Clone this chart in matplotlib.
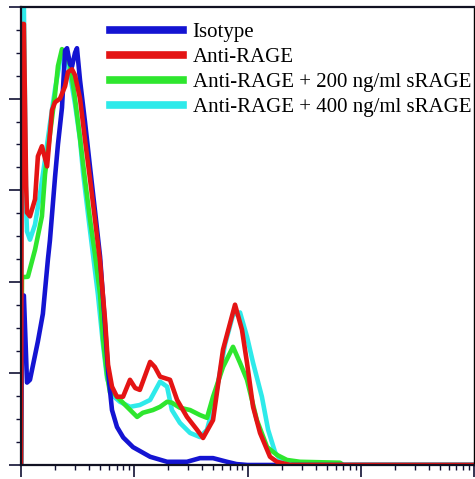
import matplotlib
matplotlib.use('Agg')
import matplotlib.pyplot as plt
from matplotlib.ticker import LogLocator, MultipleLocator, NullFormatter

# histogram traces (x = fluorescence, y = counts)
iso_x = [1.0, 1.02, 1.06, 1.13, 1.20, 1.41, 1.56, 1.73, 1.80, 2.00, 2.12, 2.30, 2.45, 2.55, 2.71,
         2.82, 3.00, 3.12, 3.32, 3.67, 4.07, 4.50, 4.99, 5.52, 5.87, 6.36, 7.04, 8.00, 9.75, 13.8,
         19.5, 29.2, 38.1, 49.6, 65.9, 80.0, 100.0, 10000.0]
iso_y = [0, 37, 37, 18, 18.6, 27, 33, 45, 49, 63, 70, 78, 90.5, 91, 87.5,
         87, 90, 91, 84, 75, 65, 55.5, 45.5, 30.5, 20.5, 12, 8.3, 6, 3.9, 1.8,
         0.7, 0.7, 1.5, 1.5, 0.7, 0.2, 0, 0]

red_x = [1.0, 1.02, 1.06, 1.11, 1.13, 1.20, 1.33, 1.41, 1.53, 1.70, 1.88, 2.00, 2.21, 2.45, 2.60,
         2.82, 3.00, 3.32, 3.67, 4.07, 4.50, 4.99, 5.52, 5.87, 6.36, 7.04, 7.96, 9.17, 10.2, 11.2,
         13.8, 15.2, 16.9, 20.7, 23.9, 29.2, 35.8, 40.5, 49.6, 60.8, 77.6, 89.4, 99.0, 112, 129,
         158, 182, 237, 10000.0]
red_y = [0, 96.3, 96.3, 61, 55.1, 54.3, 58, 67.4, 69.6, 65.2, 77.5, 79.2, 80, 82.7, 85.8,
         86.4, 85.1, 80, 71.1, 62.4, 53.6, 44.4, 31.7, 21.9, 17.1, 14.9, 14.9, 18.6, 16.8, 16.4,
         22.5, 21.4, 19.3, 18.6, 14.2, 10.5, 7.7, 5.9, 9.8, 25.2, 35.0, 29.5, 22.3, 12.7, 7.0,
         1.8, 0.7, 0, 0]

g200_x = [1.0, 1.02, 1.15, 1.33, 1.53, 1.63, 1.80, 2.00, 2.12, 2.30, 2.45, 2.71, 3.00, 3.32, 3.67,
          4.07, 4.50, 4.99, 5.30, 5.75, 6.11, 6.49, 8.63, 10.6, 11.9, 14.6, 16.9, 19.5, 21.5, 25.3,
          31.1, 38.1, 43.9, 49.6, 60.8, 74.5, 85.9, 99.0, 121, 149, 182, 223, 291, 656, 700, 10000.0]
g200_y = [0, 41, 41.1, 47, 54.3, 63.5, 72.2, 81, 87.1, 90.8, 89.7, 87.5, 80, 71.3, 62.4,
          53.6, 46, 37.2, 27.4, 19.7, 15.8, 15.8, 12.7, 10.5, 11.4, 12.0, 12.7, 13.8, 13.6, 12.5,
          12.0, 10.9, 10.3, 14.9, 21.4, 25.8, 22.3, 18.6, 9.8, 3.9, 2.2, 1.1, 0.7, 0.5, 0, 0]

g400_x = [1.0, 1.02, 1.06, 1.11, 1.13, 1.20, 1.33, 1.47, 1.63, 1.80, 2.00, 2.21, 2.35, 2.55, 2.71,
          3.00, 3.32, 3.53, 3.91, 4.32, 4.78, 5.30, 5.75, 6.36, 7.48, 9.17, 11.2, 13.8, 16.9, 19.5,
          21.5, 25.3, 31.1, 38.1, 43.9, 51.6, 63.3, 74.5, 85.9, 99.0, 112, 134, 152, 175, 201, 237,
          10000.0]
g400_y = [0, 100, 100, 55.8, 51, 49.2, 52.5, 59.1, 66.7, 74.4, 82.1, 88.2, 89.7, 88.6, 85.3,
          78.8, 71.1, 63.9, 54.7, 46, 37.2, 26.3, 19, 15.3, 13.8, 12.7, 13.1, 14.2, 18.2, 17.1,
          12.0, 9.2, 7.0, 6.1, 7.7, 14.2, 26.3, 32.8, 33.3, 28.0, 22.3, 14.9, 7.7, 2.8, 0.7, 0,
          0]

labels = ['Isotype', 'Anti-RAGE', 'Anti-RAGE + 200 ng/ml sRAGE', 'Anti-RAGE + 400 ng/ml sRAGE']
colors = ['#1414d2', '#e41414', '#2ee62e', '#2eeaea']

fig = plt.figure(figsize=(4.75, 4.79), dpi=100)
ax = fig.add_axes([21 / 475, 14 / 479, 453 / 475, 458 / 479])

lw = 3.3
l400, = ax.plot(g400_x, g400_y, color=colors[3], lw=lw, label=labels[3])
l200, = ax.plot(g200_x, g200_y, color=colors[2], lw=lw, label=labels[2])
liso, = ax.plot(iso_x, iso_y, color=colors[0], lw=lw, label=labels[0])
lred, = ax.plot(red_x, red_y, color=colors[1], lw=lw, label=labels[1])

ax.set_xscale('log')
ax.set_xlim(1, 10000)
ax.set_ylim(0, 100)
ax.xaxis.set_major_locator(LogLocator(base=10))
ax.xaxis.set_minor_locator(LogLocator(base=10, subs=range(2, 10)))
ax.xaxis.set_major_formatter(NullFormatter())
ax.xaxis.set_minor_formatter(NullFormatter())
ax.yaxis.set_major_locator(MultipleLocator(20))
ax.yaxis.set_minor_locator(MultipleLocator(5))
ax.yaxis.set_major_formatter(NullFormatter())
ax.tick_params(which='major', length=8.5, width=1.2, direction='out', colors='#111133')
ax.tick_params(which='minor', length=3.8, width=1.0, direction='out', colors='#111133')
ax.tick_params(top=False, right=False)
for s in ['top', 'left', 'bottom']:
    ax.spines[s].set_linewidth(1.6)
    ax.spines[s].set_color('#111122')
ax.spines['right'].set_linewidth(1.0)

leg = ax.legend(handles=[liso, lred, l200, l400], loc='upper left',
                bbox_to_anchor=(0.196, 0.966), frameon=False, borderpad=0, borderaxespad=0,
                handlelength=3.5, handletextpad=0.48, labelspacing=0.26,
                prop={'family': 'Liberation Serif', 'size': 15})
for h in leg.legend_handles:
    h.set_linewidth(5.5)

fig.savefig('out.png', dpi=100)
